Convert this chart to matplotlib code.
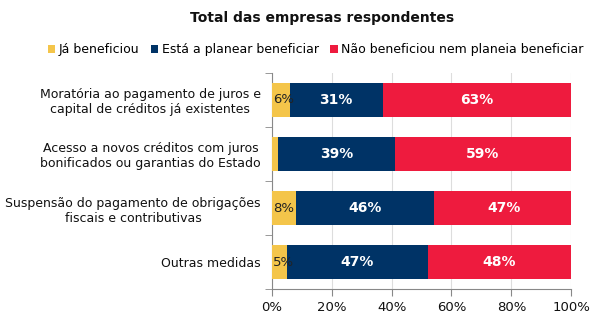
import matplotlib
matplotlib.use("Agg")
import matplotlib.pyplot as plt
import numpy as np

categories = ["Moratória ao pagamento de juros e\ncapital de créditos já existentes",
              "Acesso a novos créditos com juros\nbonificados ou garantias do Estado",
              "Suspensão do pagamento de obrigações\nfiscais e contributivas",
              "Outras medidas"]
series_names = ["Já beneficiou", "Está a planear beneficiar", "Não beneficiou nem planeia beneficiar"]
ja = [6, 2, 8, 5]
planear = [31, 39, 46, 47]
nao = [63, 59, 47, 48]
ja_labels = ["6%", "", "8%", "5%"]
colors = ["#F4C54A", "#003366", "#EE1B3E"]

fig = plt.figure(figsize=(6.07, 3.33), dpi=100)
ax = fig.add_axes([0.448, 0.132, 0.493, 0.649])

y = np.arange(len(categories))
h = 0.63
vals = [np.array(ja, float), np.array(planear, float), np.array(nao, float)]
left = np.zeros(len(categories))
for i, v in enumerate(vals):
    ax.barh(y, v, left=left, height=h, color=colors[i], label=series_names[i], zorder=3)
    for j in range(len(categories)):
        cx = left[j] + v[j] / 2
        if i == 0:
            if ja_labels[j]:
                ax.text(left[j] + 0.3, y[j], ja_labels[j], ha="left", va="center",
                        fontsize=9.5, color="#222222", zorder=4)
        else:
            ax.text(cx, y[j], f"{int(v[j])}%", ha="center", va="center",
                    fontsize=10, color="white", fontweight="bold", zorder=4)
    left = left + v

ax.set_xlim(0, 100)
ax.set_ylim(len(categories) - 0.5, -0.5)
ax.set_xticks(np.arange(0, 101, 20))
ax.set_xticklabels([f"{t}%" for t in range(0, 101, 20)], fontsize=9.5, color="#111111")
ax.set_yticks(y)
ax.set_yticklabels(categories, fontsize=9, multialignment="center", color="#111111")
ax.tick_params(axis="y", length=0, pad=8)
ax.set_yticks(np.arange(-0.5, len(categories), 1), minor=True)
ax.tick_params(axis="y", which="minor", length=5, color="#888888")
ax.tick_params(axis="x", length=5, color="#888888")
ax.grid(axis="x", color="#dddddd", linewidth=0.8, zorder=0)
for s in ["top", "right"]:
    ax.spines[s].set_visible(False)
ax.spines["left"].set_color("#888888")
ax.spines["bottom"].set_color("#888888")

fig.text(0.53, 0.945, "Total das empresas respondentes", ha="center", va="center",
         fontsize=10, fontweight="bold", color="#111111")
fig.legend(loc="center", bbox_to_anchor=(0.52, 0.85), ncol=3, frameon=False,
           fontsize=9, handlelength=0.6, handleheight=0.6, handletextpad=0.3,
           columnspacing=0.9)

fig.savefig("out.png", dpi=100)
